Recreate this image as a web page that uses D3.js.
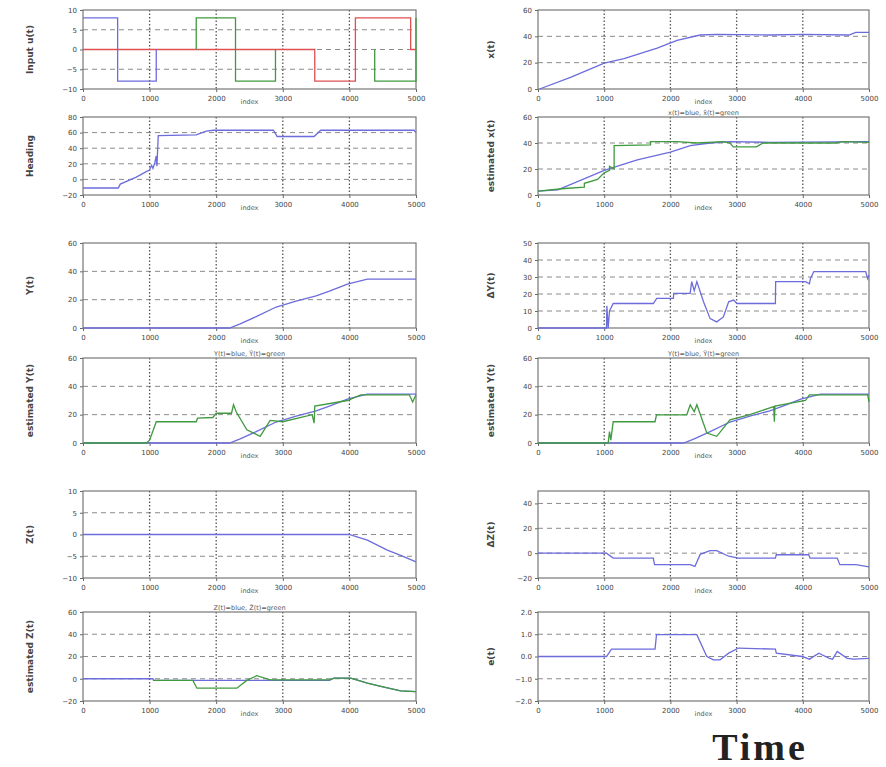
<!DOCTYPE html>
<html><head><meta charset="utf-8">
<script src="https://cdn.jsdelivr.net/npm/d3@7"></script>
<style>
html,body{margin:0;padding:0;background:#fff;}
svg{display:block;}
</style></head>
<body>
<svg id="chart" width="886" height="767"></svg>
<script>
// ---------- data ----------
const xTicks = [0, 1000, 2000, 3000, 4000, 5000];

const yTicksA = [-10, -5, 0, 5, 10];
const yTicksB = [-20, 0, 20, 40, 60, 80];
const yTicksC = [0, 20, 40, 60];
const yTicksD = [0, 20, 40, 60];
const yTicksE = [0, 20, 40, 60];
const yTicksF = [0, 20, 40, 60];
const yTicksG = [0, 10, 20, 30, 40, 50];
const yTicksH = [0, 20, 40, 60];
const yTicksI = [-10, -5, 0, 5, 10];
const yTicksJ = [-20, 0, 20, 40, 60];
const yTicksK = [-20, 0, 20, 40];
const yTicksL = [-2, -1, 0, 1, 2];

const aRed = [[0,0],[3480,0],[3480,-8],[4090,-8],[4090,8],[4920,8],[4920,0],[5000,0]];
const aBlue = [[0,8],[520,8],[520,-8],[1100,-8],[1100,0]];
const aGreen1 = [[1700,0],[1700,8],[2290,8],[2290,-8],[2890,-8],[2890,0]];
const aGreen2 = [[4380,0],[4380,-8],[5000,-8],[5000,8]];

const bBlue = [[0,-11],[530,-11],[560,-6],[800,3],[950,10],[1000,12],[1030,18],[1050,14],[1080,22],[1100,30],[1110,17],[1130,56],[1700,57],[1850,62],[1960,63],[2860,63],[2915,55],[3470,55],[3570,63],[4970,63],[5000,60]];

const cBlue = [[25,0],[500,9],[1000,19.7],[1300,23],[1800,31],[2100,37],[2450,41],[2700,41.5],[3500,41],[4000,41.5],[4700,41],[4800,43],[5000,43]];

const dBlue = [[0,3],[300,4],[1000,19],[1500,27],[2000,33],[2300,38],[2600,40],[2900,41],[3500,40.5],[5000,41]];
const dGreen = [[0,3],[400,5],[700,6],[700,9],[900,12],[1000,17],[1080,19],[1080,22],[1150,20],[1150,38],[1700,38.5],[1700,41],[2100,41],[2400,40],[2800,41],[2900,40],[2950,37],[3300,37],[3400,40],[4500,40],[4600,41],[5000,40.5]];

const eBlue = [[0,0],[2200,0],[2360,2.9],[2600,8],[2900,14.8],[3200,19],[3500,22.6],[3700,26],[3970,31],[4270,34.5],[5000,34.5]];

const fGreen = [[0,0],[950,0],[1000,2],[1100,15],[1700,15],[1720,17.5],[1950,18],[2000,21],[2230,21],[2260,27],[2300,22],[2460,9.3],[2660,4.7],[2810,16],[3000,15],[3440,20],[3470,14],[3480,26],[3970,30],[4170,34],[4900,34],[4950,29],[5000,34]];

const gBlue = [[0,0],[1035,0],[1040,13],[1060,0],[1080,10],[1136,14.4],[1742,14.4],[1793,17.4],[2045,17.4],[2050,20.4],[2298,20.4],[2322,27.3],[2360,22],[2400,27.3],[2500,15.4],[2600,5.5],[2700,3.6],[2800,6.5],[2880,15.4],[2955,16.4],[3005,14.4],[3586,14.4],[3590,27.3],[4040,27.3],[4100,26],[4116,29.2],[4167,33.2],[4950,33.2],[4980,29],[5000,31]];

const hGreen = [[0,0],[1060,0],[1080,8],[1100,2],[1136,15],[1768,15],[1790,19.9],[2247,19.9],[2300,26.9],[2360,22],[2400,27],[2550,7],[2700,4.7],[2900,16.4],[3200,20],[3560,25.7],[3570,15],[3580,26],[4040,30],[4100,34],[4980,34],[5000,29]];

const iBlue = [[0,0],[3995,0],[4270,-1.3],[4570,-3.6],[4770,-4.8],[5000,-6.3]];

const jBlue = [[0,0],[1050,0],[1060,-1.5],[3700,-1.5],[3770,0.6],[4020,0.6],[4270,-4],[4520,-7.5],[4770,-10.9],[5000,-11.5]];
const jGreen = [[1050,-1.5],[1650,-1.5],[1710,-8.5],[2310,-8.5],[2460,-1.5],[2610,2.7],[2810,-1],[3700,-1],[3770,0.6],[4020,0.6],[4270,-4],[4520,-7.5],[4770,-10.9],[5000,-11.5]];

const kBlue = [[0,0],[1035,0],[1136,-4],[1742,-4],[1760,-9.3],[2298,-9.3],[2370,-10.7],[2450,-1],[2600,2],[2700,2],[2880,-2.5],[3030,-4],[3586,-4],[3600,-1.3],[4090,-1.3],[4110,-4],[4520,-4],[4560,-9.3],[4800,-9.3],[5000,-11]];

const lBlue = [[0,0],[1035,0],[1110,0.33],[1768,0.33],[1790,0.98],[2399,0.98],[2550,0],[2650,-0.15],[2750,-0.15],[2880,0.15],[3030,0.38],[3586,0.33],[3600,0.15],[3990,0],[4100,-0.12],[4242,0.15],[4400,-0.08],[4450,-0.12],[4520,0.23],[4670,-0.08],[4770,-0.12],[5000,-0.08]];

const yLabels = ["Input u(t)", "Heading", "x(t)", "estimated x(t)", "Y(t)", "ΔY(t)", "estimated Y(t)", "estimated Y(t)", "Z(t)", "ΔZ(t)", "estimated Z(t)", "e(t)"];
const titles = ["x(t)=blue, x\u0302(t)=green", "Y(t)=blue, Y\u0302(t)=green", "Z(t)=blue, Z\u0302(t)=green"];

// ---------- styling / layout ----------
const BLUE = "#6c6cdc", GREEN = "#3f9a3f", RED = "#e05050";
const colX = [[83, 416], [538, 869]];
const rowY = [[10, 89], [117, 195], [243, 328], [358, 443], [491, 578], [612, 701]];

const panels = [
  {c:0, r:0, dom:[-10,10], ticks:yTicksA, label:yLabels[0], series:[[aRed,RED],[aBlue,BLUE],[aGreen1,GREEN],[aGreen2,GREEN]]},
  {c:1, r:0, dom:[0,60], ticks:yTicksC, label:yLabels[2], series:[[cBlue,BLUE]]},
  {c:0, r:1, dom:[-20,80], ticks:yTicksB, label:yLabels[1], series:[[bBlue,BLUE]]},
  {c:1, r:1, dom:[0,60], ticks:yTicksD, label:yLabels[3], series:[[dBlue,BLUE],[dGreen,GREEN]], title:titles[0]},
  {c:0, r:2, dom:[0,60], ticks:yTicksE, label:yLabels[4], series:[[eBlue,BLUE]]},
  {c:1, r:2, dom:[0,50], ticks:yTicksG, label:yLabels[5], series:[[gBlue,BLUE]]},
  {c:0, r:3, dom:[0,60], ticks:yTicksF, label:yLabels[6], series:[[eBlue,BLUE],[fGreen,GREEN]], title:titles[1]},
  {c:1, r:3, dom:[0,60], ticks:yTicksH, label:yLabels[7], series:[[eBlue,BLUE],[hGreen,GREEN]], title:titles[1]},
  {c:0, r:4, dom:[-10,10], ticks:yTicksI, label:yLabels[8], series:[[iBlue,BLUE]]},
  {c:1, r:4, dom:[-20,50], ticks:yTicksK, label:yLabels[9], series:[[kBlue,BLUE]]},
  {c:0, r:5, dom:[-20,60], ticks:yTicksJ, label:yLabels[10], series:[[jBlue,BLUE],[jGreen,GREEN]], title:titles[2]},
  {c:1, r:5, dom:[-2,2], ticks:yTicksL, label:yLabels[11], series:[[lBlue,BLUE]]}
];

const svg = d3.select("#chart");
const FONT = "DejaVu Sans, Arial, sans-serif";

panels.forEach(p => {
  const [x0, x1] = colX[p.c];
  const [y0, y1] = rowY[p.r];
  const x = d3.scaleLinear().domain([0, 5000]).range([x0, x1]);
  const y = d3.scaleLinear().domain(p.dom).range([y1, y0]);
  const g = svg.append("g");

  // grid
  g.selectAll(".hg").data(p.ticks.filter(t => t > p.dom[0] && t < p.dom[1])).join("line")
    .attr("x1", x0).attr("x2", x1).attr("y1", d => y(d)).attr("y2", d => y(d))
    .attr("stroke", "#8a8a8a").attr("stroke-width", 1).attr("stroke-dasharray", "5,4");
  g.selectAll(".vg").data(xTicks.slice(1, -1)).join("line")
    .attr("x1", d => x(d)).attr("x2", d => x(d)).attr("y1", y0).attr("y2", y1)
    .attr("stroke", "#555").attr("stroke-width", 1.3).attr("stroke-dasharray", "1.5,2");

  // axes
  const ax = d3.axisBottom(x).tickValues(xTicks).tickSize(3).tickSizeOuter(0).tickFormat(d3.format("d"));
  const ay = d3.axisLeft(y).tickValues(p.ticks).tickSize(3).tickSizeOuter(0)
    .tickFormat(d => Math.abs(p.dom[1]) <= 2 ? d3.format(".1f")(d) : d3.format("d")(d));
  const gx = g.append("g").attr("transform", `translate(0,${y1})`).call(ax);
  const gy = g.append("g").attr("transform", `translate(${x0},0)`).call(ay);
  [gx, gy].forEach(a => {
    a.select(".domain").remove();
    a.selectAll("line").attr("stroke", "#666");
    a.selectAll("text").attr("font-family", FONT).attr("font-size", 7).attr("fill", "#444");
  });
  gx.selectAll("text").attr("dy", "0.9em");

  // frame
  g.append("rect").attr("x", x0).attr("y", y0).attr("width", x1 - x0).attr("height", y1 - y0)
    .attr("fill", "none").attr("stroke", "#777").attr("stroke-width", 1.2);

  // series
  const line = d3.line().x(d => x(d[0])).y(d => y(d[1]));
  p.series.forEach(([data, col]) => {
    g.append("path").datum(data).attr("d", line)
      .attr("fill", "none").attr("stroke", col).attr("stroke-width", 1.3);
  });

  // labels
  g.append("text").attr("x", (x0 + x1) / 2).attr("y", y1 + 15).attr("text-anchor", "middle")
    .attr("font-family", FONT).attr("font-size", 6.5).attr("fill", "#555").text("index");
  g.append("text").attr("transform", `translate(${x0 - (p.c === 0 ? 50 : 44)},${(y0 + y1) / 2}) rotate(-90)`)
    .attr("text-anchor", "middle").attr("font-family", FONT).attr("font-size", 9).attr("font-weight", "bold")
    .attr("fill", "#444").text(p.label);
  if (p.title) {
    g.append("text").attr("x", (x0 + x1) / 2).attr("y", y0 - 2).attr("text-anchor", "middle")
      .attr("font-family", FONT).attr("font-size", 6.5).attr("fill", "#555").text(p.title);
  }
});

svg.append("text").attr("x", 760).attr("y", 760).attr("text-anchor", "middle")
  .attr("font-family", "Liberation Serif, Times New Roman, serif").attr("font-size", 38)
  .attr("font-weight", "bold").attr("fill", "#222").attr("letter-spacing", 3).text("Time");
</script>
</body></html>
